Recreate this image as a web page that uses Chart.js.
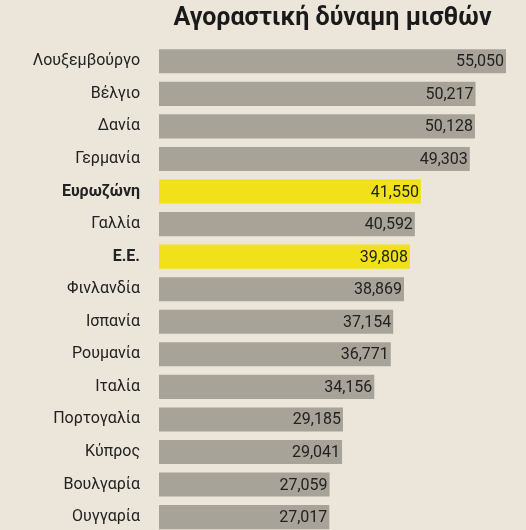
<!DOCTYPE html>
<html><head><meta charset="utf-8">
<script src="https://cdn.jsdelivr.net/npm/chart.js@4"></script>
<style>html,body{margin:0;padding:0;background:#ebe5da;overflow:hidden;height:530px;}#w{width:526px;height:554px;}</style>
</head><body><div id="w"><canvas id="c"></canvas></div>
<script>
const categories=["Λουξεμβούργο","Βέλγιο","Δανία","Γερμανία","Ευρωζώνη","Γαλλία","Ε.Ε.","Φινλανδία","Ισπανία","Ρουμανία","Ιταλία","Πορτογαλία","Κύπρος","Βουλγαρία","Ουγγαρία"];
const values=[55050,50217,50128,49303,41550,40592,39808,38869,37154,36771,34156,29185,29041,27059,27017];
const highlighted=["Ευρωζώνη","Ε.Ε."];
const title="Αγοραστική δύναμη μισθών";
const FONT='"Liberation Sans Narrow","Roboto",sans-serif';
const colors=categories.map(c=>highlighted.includes(c)?"#f0e11a":"#a8a398");
const labelPlugin={id:'lbl',afterDatasetsDraw(ch){
 const ctx=ch.ctx;const meta=ch.getDatasetMeta(0);
 ctx.save();ctx.fillStyle="#222";ctx.font='16px '+FONT;ctx.textAlign='right';ctx.textBaseline='middle';
 meta.data.forEach((b,i)=>{ctx.fillText(values[i].toLocaleString('en-US'),b.x-2,b.y+1);});
 const a=ch.chartArea;ctx.font='bold 25px '+FONT;ctx.textAlign='center';ctx.fillStyle='#1a1a1a';
 ctx.fillText(title,(a.left+a.right)/2,19);ctx.restore();}};
new Chart(document.getElementById('c'),{type:'bar',
data:{labels:categories,datasets:[{data:values,backgroundColor:colors,barPercentage:0.74,categoryPercentage:1}]},
options:{indexAxis:'y',responsive:true,maintainAspectRatio:false,animation:false,
 layout:{padding:{top:45,right:20,bottom:-30,left:0}},
 plugins:{legend:{display:false},tooltip:{enabled:false}},
 scales:{x:{min:0,max:55050,display:false},
  y:{afterFit(s){s.width=159;},grid:{display:false},border:{display:false},
   ticks:{padding:11,color:'#222',font:c=>({family:FONT,size:16,weight:highlighted.includes(categories[c.index])?'bold':'normal'})}}}},
plugins:[labelPlugin]});
</script></body></html>
